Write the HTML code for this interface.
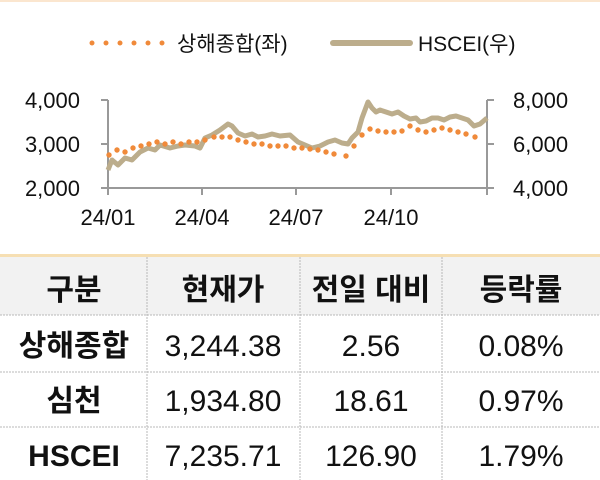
<!DOCTYPE html>
<html><head><meta charset="utf-8"><style>
body{margin:0;width:600px;height:480px;background:#fff;overflow:hidden;font-family:"Liberation Sans","Noto Sans CJK KR",sans-serif;}
</style></head><body>
<svg width="600" height="480" xmlns="http://www.w3.org/2000/svg" style="position:absolute;left:0;top:0">
<rect x="0" y="0" width="600" height="2" fill="#fbe6cf"/>
<g fill="#f08a3a">
<circle cx="92" cy="43" r="2.5"/><circle cx="106" cy="43" r="2.5"/><circle cx="120" cy="43" r="2.5"/><circle cx="134" cy="43" r="2.5"/><circle cx="148" cy="43" r="2.5"/><circle cx="162" cy="43" r="2.5"/>
</g>
<text x="177" y="51" font-size="21" fill="#111">상해종합(좌)</text>
<line x1="333" y1="43" x2="410" y2="43" stroke="#bcad8c" stroke-width="6" stroke-linecap="round"/>
<text x="418" y="51" font-size="21" fill="#111">HSCEI(우)</text>
<g stroke="#999" stroke-width="2" fill="none">
<line x1="108" y1="100" x2="108" y2="188"/>
<line x1="487" y1="100" x2="487" y2="188"/>
<line x1="108" y1="188" x2="487" y2="188"/>
<line x1="101" y1="100" x2="108" y2="100"/><line x1="101" y1="144" x2="108" y2="144"/><line x1="101" y1="188" x2="108" y2="188"/>
<line x1="487" y1="100" x2="494" y2="100"/><line x1="487" y1="144" x2="494" y2="144"/><line x1="487" y1="188" x2="494" y2="188"/>
<line x1="108" y1="188" x2="108" y2="195"/><line x1="202" y1="188" x2="202" y2="195"/><line x1="296" y1="188" x2="296" y2="195"/><line x1="391" y1="188" x2="391" y2="195"/><line x1="487" y1="188" x2="487" y2="195"/>
</g>
<g font-size="22" fill="#111">
<text x="80" y="108" text-anchor="end">4,000</text>
<text x="80" y="152" text-anchor="end">3,000</text>
<text x="80" y="196" text-anchor="end">2,000</text>
<text x="513" y="108">8,000</text>
<text x="513" y="152">6,000</text>
<text x="513" y="196">4,000</text>
<text x="108" y="225" text-anchor="middle">24/01</text>
<text x="202" y="225" text-anchor="middle">24/04</text>
<text x="296" y="225" text-anchor="middle">24/07</text>
<text x="391" y="225" text-anchor="middle">24/10</text>
</g>
<polyline fill="none" stroke="#bcad8c" stroke-width="5" stroke-linejoin="round" points="108,170 112,160 118,165 125,158 132,160 140,152 148,148 155,150 160,145 170,148 178,146 185,145 195,146 200,148 205,138 212,135 220,130 228,124 232,126 238,133 245,136 252,134 258,137 265,136 272,134 280,136 290,135 298,142 305,145 312,148 320,146 328,142 335,140 342,143 348,144 352,138 358,132 362,118 368,102 372,108 376,112 380,110 386,112 392,114 398,112 404,116 410,119 416,118 420,122 426,121 432,118 438,118 444,120 450,117 456,116 462,118 468,120 474,126 480,124 487,118"/>
<g fill="#f08a3a">
<circle cx="109" cy="155" r="2.7"/><circle cx="117" cy="150" r="2.7"/><circle cx="125" cy="152" r="2.7"/><circle cx="133" cy="148" r="2.7"/><circle cx="141" cy="146" r="2.7"/><circle cx="149" cy="144" r="2.7"/><circle cx="157" cy="142" r="2.7"/><circle cx="165" cy="144" r="2.7"/><circle cx="173" cy="142" r="2.7"/><circle cx="181" cy="144" r="2.7"/><circle cx="189" cy="142" r="2.7"/><circle cx="197" cy="142" r="2.7"/><circle cx="205" cy="140" r="2.7"/><circle cx="214" cy="137" r="2.7"/><circle cx="222" cy="137" r="2.7"/><circle cx="230" cy="137" r="2.7"/><circle cx="238" cy="140" r="2.7"/><circle cx="246" cy="142" r="2.7"/><circle cx="254" cy="144" r="2.7"/><circle cx="262" cy="144" r="2.7"/><circle cx="270" cy="146" r="2.7"/><circle cx="278" cy="146" r="2.7"/><circle cx="286" cy="146" r="2.7"/><circle cx="294" cy="148" r="2.7"/><circle cx="302" cy="148" r="2.7"/><circle cx="310" cy="149" r="2.7"/><circle cx="318" cy="150" r="2.7"/><circle cx="326" cy="152" r="2.7"/><circle cx="334" cy="154" r="2.7"/><circle cx="346" cy="156" r="2.7"/><circle cx="354" cy="146" r="2.7"/><circle cx="362" cy="135" r="2.7"/><circle cx="370" cy="129" r="2.7"/><circle cx="378" cy="131" r="2.7"/><circle cx="386" cy="132" r="2.7"/><circle cx="394" cy="132" r="2.7"/><circle cx="402" cy="131" r="2.7"/><circle cx="410" cy="126" r="2.7"/><circle cx="418" cy="130" r="2.7"/><circle cx="426" cy="132" r="2.7"/><circle cx="434" cy="130" r="2.7"/><circle cx="442" cy="128" r="2.7"/><circle cx="450" cy="130" r="2.7"/><circle cx="458" cy="132" r="2.7"/><circle cx="466" cy="134" r="2.7"/><circle cx="475" cy="137" r="2.7"/>
</g>
<rect x="0" y="254" width="600" height="3" fill="#f6dfb3"/>
<rect x="0" y="257" width="600" height="58" fill="#f2f2f2"/>
<g stroke="#b8b8b8" stroke-width="1" stroke-dasharray="2,1">
<line x1="0" y1="315" x2="600" y2="315"/><line x1="0" y1="372" x2="600" y2="372"/><line x1="0" y1="427" x2="600" y2="427"/>
<line x1="147" y1="257" x2="147" y2="480"/><line x1="300" y1="257" x2="300" y2="480"/><line x1="442" y1="257" x2="442" y2="480"/>
</g>
<g font-size="30" fill="#111" text-anchor="middle">
<g font-weight="bold">
<text x="74" y="300">구분</text><text x="223" y="300">현재가</text><text x="371" y="300">전일 대비</text><text x="521" y="300">등락률</text>
<text x="74" y="356">상해종합</text><text x="74" y="411">심천</text><text x="74" y="466">HSCEI</text>
</g>
<text x="223" y="356">3,244.38</text><text x="371" y="356">2.56</text><text x="521" y="356">0.08%</text>
<text x="223" y="411">1,934.80</text><text x="371" y="411">18.61</text><text x="521" y="411">0.97%</text>
<text x="223" y="466">7,235.71</text><text x="371" y="466">126.90</text><text x="521" y="466">1.79%</text>
</g>
</svg>
</body></html>
